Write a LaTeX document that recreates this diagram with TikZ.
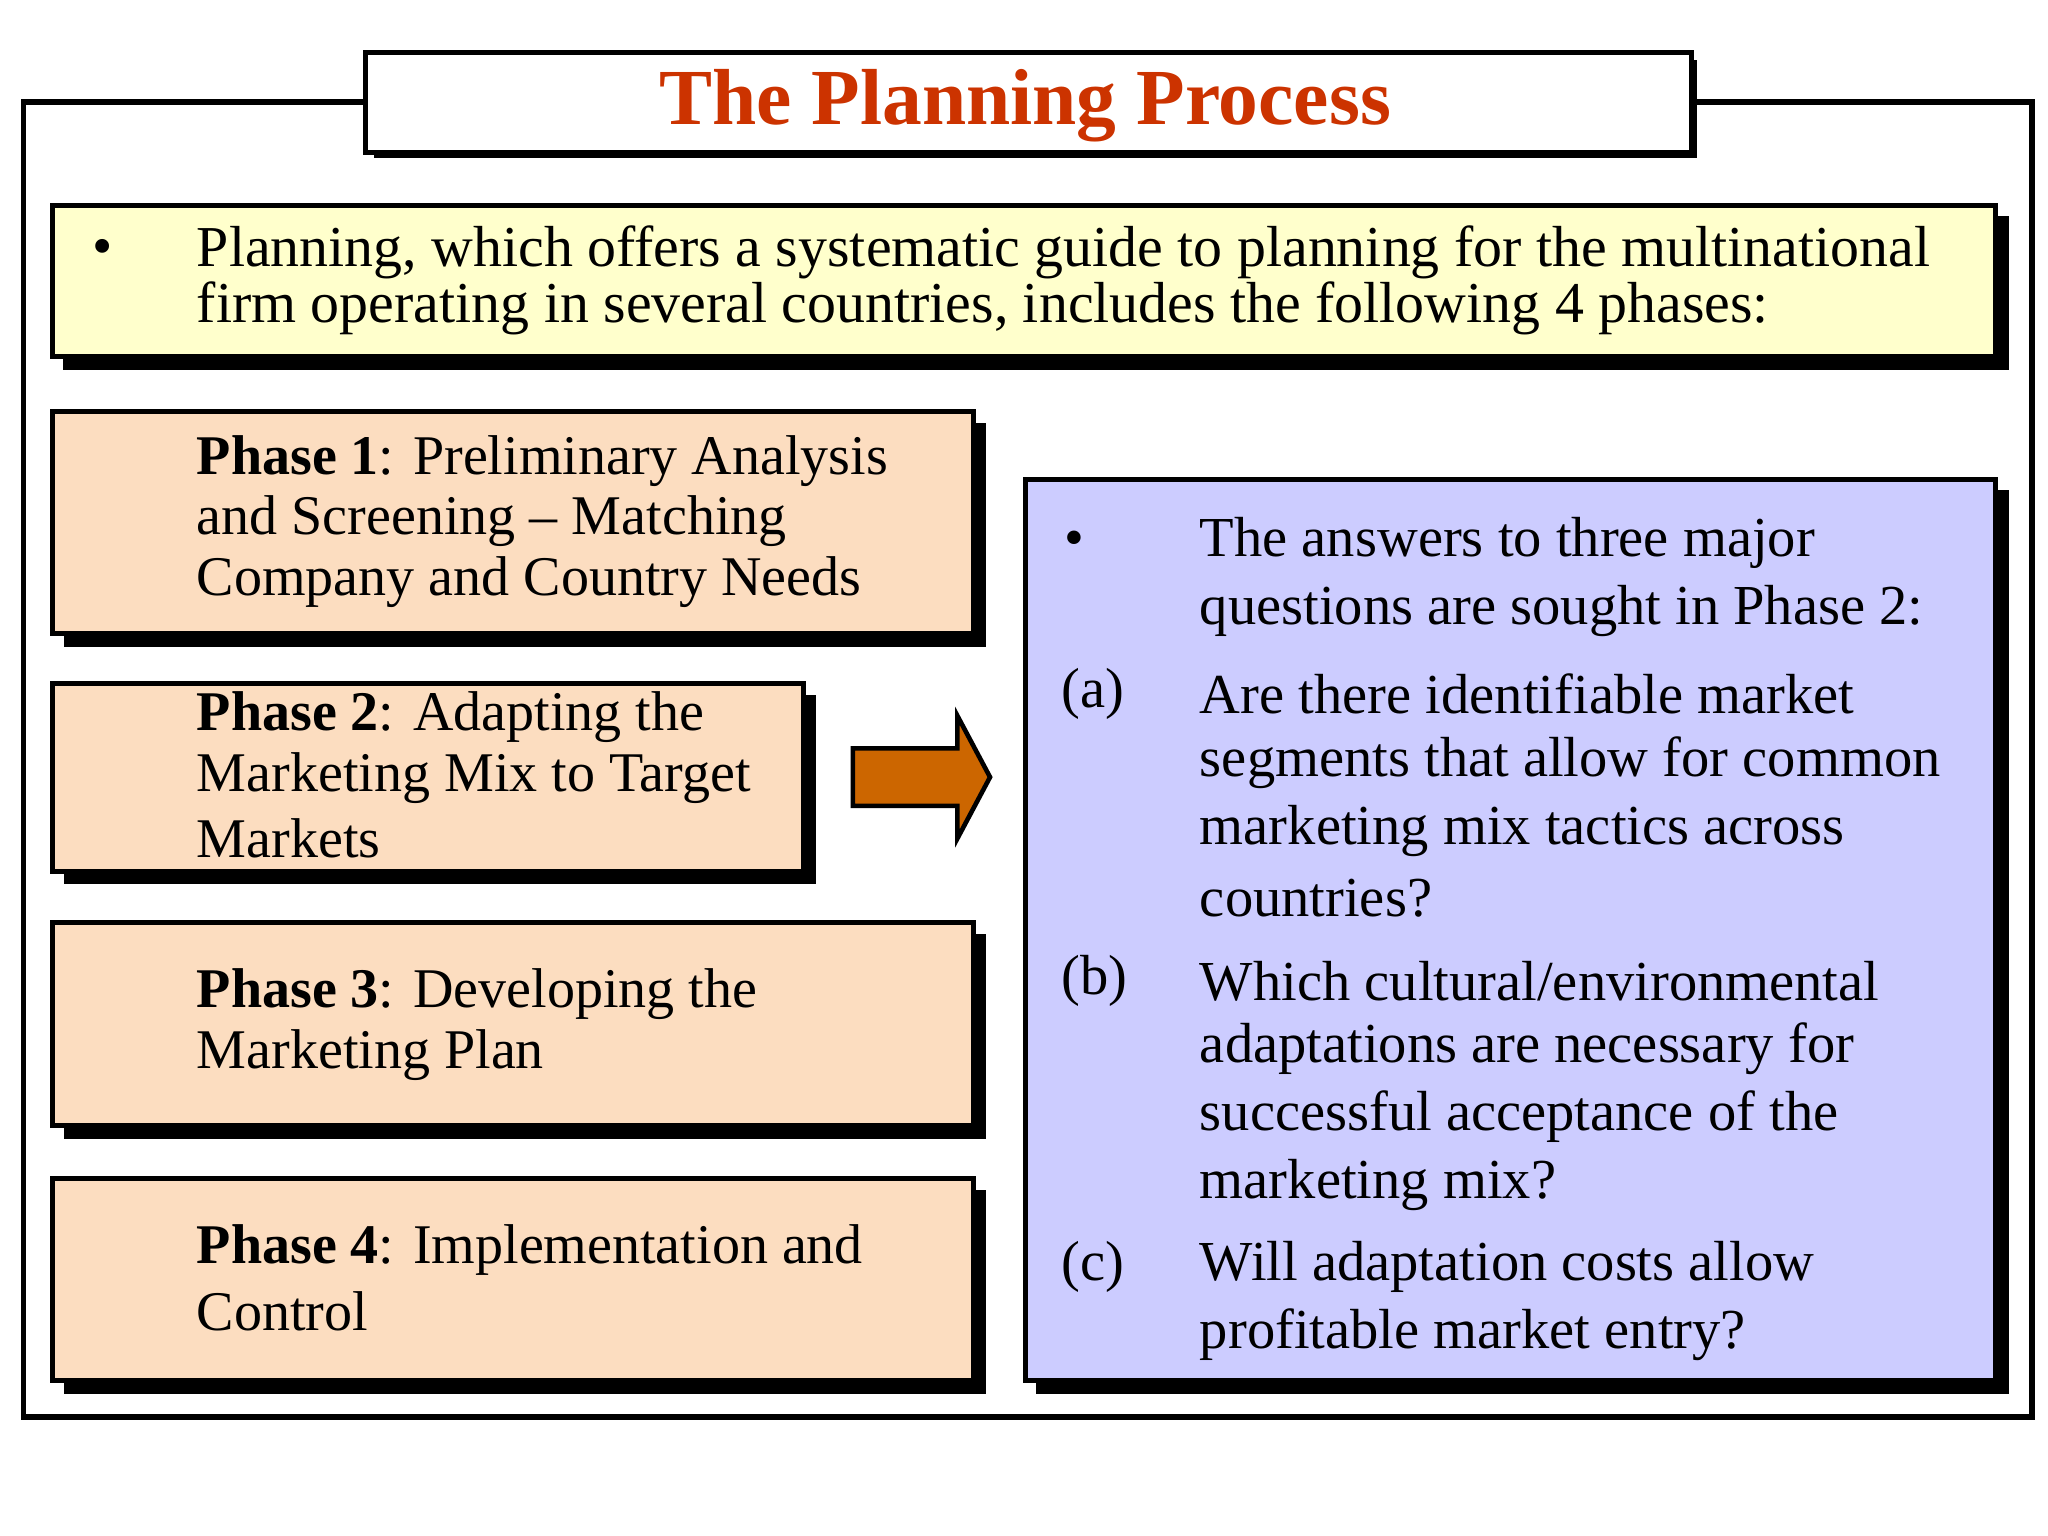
\documentclass[tikz,border=0pt]{standalone}
\usepackage{fontspec}
\setmainfont{Liberation Serif}
\definecolor{titlered}{HTML}{CC3300}
\definecolor{yel}{HTML}{FFFFCC}
\definecolor{peach}{HTML}{FCDDC0}
\definecolor{lav}{HTML}{CCCCFF}
\definecolor{arr}{HTML}{CC6600}
\begin{document}
\begin{tikzpicture}[x=0.01cm,y=-0.01cm,
  boxs/.style={draw=black,line width=1.1pt},
  shad/.style={fill=black},
  txt/.style={anchor=west,inner sep=0pt,font=\fontsize{12.2}{14}\selectfont},
  btxt/.style={anchor=west,inner sep=0pt,font=\fontsize{12.3}{14}\selectfont},
  ytxt/.style={anchor=west,inner sep=0pt,font=\fontsize{12.6}{14}\selectfont}]
\useasboundingbox (0,0) rectangle (1568,1176);
% outer frame
\draw[line width=1.3pt] (18,78) rectangle (1556,1085);
% title
\fill[black] (286,46) rectangle (1299,121);
\draw[boxs,fill=white] (280,40) rectangle (1295,117);
\node[inner sep=0pt,font=\fontsize{17.3}{19}\selectfont\bfseries,text=titlered] (title) at (785,81) {The Planning Process};
% yellow box
\fill[shad] (48,165) rectangle (1538,283);
\draw[boxs,fill=yel] (40,157) rectangle (1528,273);
\node[ytxt] (yb) at (70,193) {•};
\node[ytxt] (y1) at (150,193) {Planning, which offers a systematic guide to planning for the multinational};
\node[ytxt] (y2) at (150,236) {firm operating in several countries, includes the following 4 phases:};
% phases
\foreach \n/\a/\b/\c/\d in {1/40/315/745/485, 2/40/523/615/667, 3/40/706/745/862, 4/40/902/745/1057}{
  \fill[shad] (\a+9,\b+9) rectangle (\c+10,\d+10);
  \draw[boxs,fill=peach] (\a,\b) rectangle (\c,\d);
}
\node[txt] (p1a) at (150,353) {\textbf{Phase 1}: Preliminary Analysis};
\node[txt] (p1b) at (150,399) {and Screening – Matching};
\node[txt] (p1c) at (150,446) {Company and Country Needs};
\node[txt] (p2a) at (150,549) {\textbf{Phase 2}: Adapting the};
\node[txt] (p2b) at (150,596) {Marketing Mix to Target};
\node[txt] (p2c) at (150,642) {Markets};
\node[txt] (p3a) at (150,761) {\textbf{Phase 3}: Developing the};
\node[txt] (p3b) at (150,808) {Marketing Plan};
\node[txt] (p4a) at (150,957) {\textbf{Phase 4}: Implementation and};
\node[txt] (p4b) at (150,1004) {Control};
% arrow
\draw[line width=1pt,fill=arr] (653,573) -- (733,573) -- (733,548) -- (758,595) -- (733,642) -- (733,617) -- (653,617) -- cycle;
% blue box
\fill[shad] (793,375) rectangle (1538,1067);
\draw[boxs,fill=lav] (785,367) rectangle (1528,1057);
\node[btxt] (bb) at (814,416) {•};
\node[btxt] (la) at (812,531) {(a)};
\node[btxt] (lb) at (812,751) {(b)};
\node[btxt] (lc) at (812,970) {(c)};
\foreach \y/\t [count=\i] in {416/{The answers to three major}, 468/{questions are sought in Phase 2:}, 531/{Are there identifiable market}, 584/{segments that allow for common}, 636/{marketing mix tactics across}, 688/{countries?}, 751/{Which cultural/environmental}, 803/{adaptations are necessary for}, 855/{successful acceptance of the}, 907/{marketing mix?}, 970/{Will adaptation costs allow}, 1022/{profitable market entry?}}{
  \node[btxt] (q\i) at (918,\y) {\t};
}
\end{tikzpicture}
\end{document}
